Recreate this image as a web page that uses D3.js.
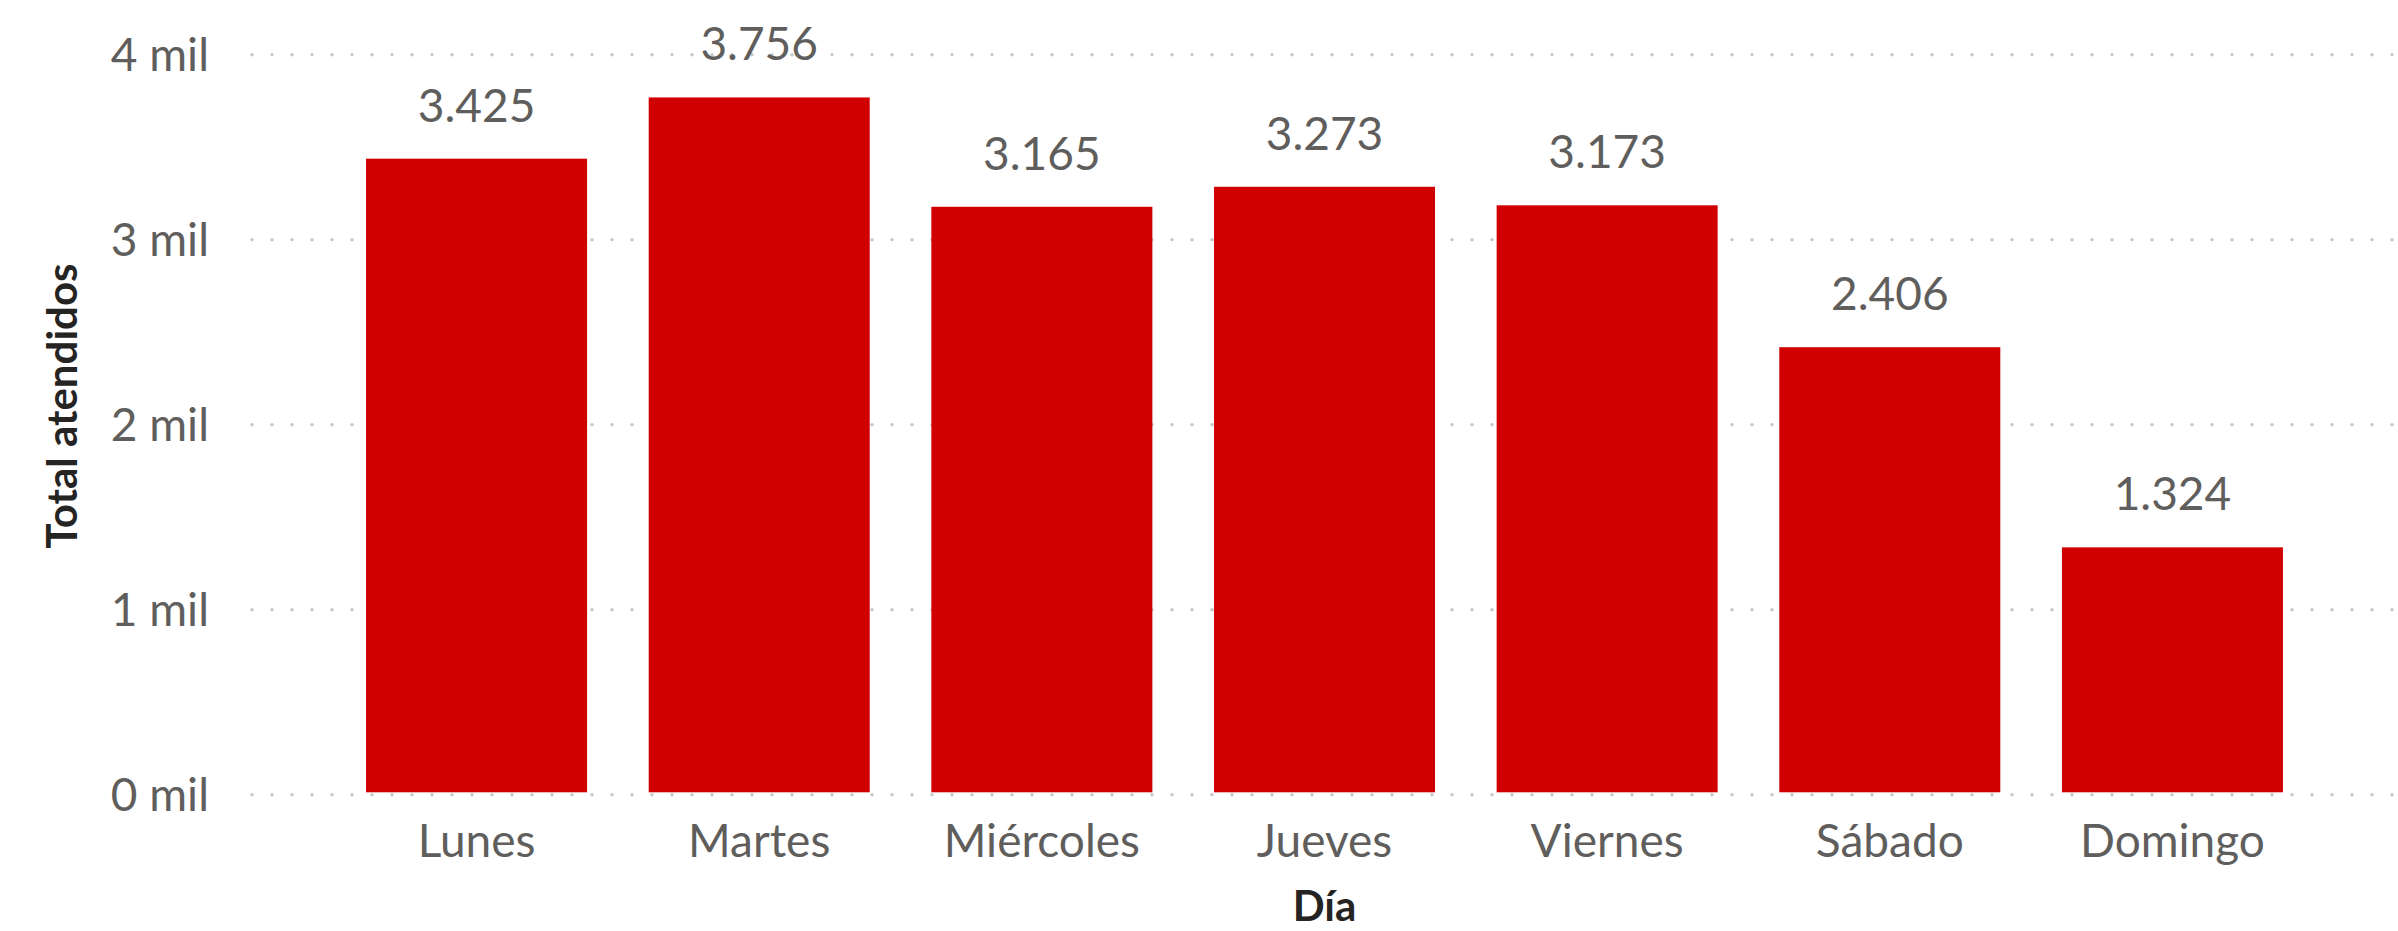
<!DOCTYPE html>
<html>
<head>
<meta charset="utf-8">
<script src="https://cdn.jsdelivr.net/npm/d3@7"></script>
<style>
  body { margin: 0; background: #fff; }
  .axis text { font-family: Lato, "Open Sans", sans-serif; font-size: 46px; fill: #605E5C; }
  .grid line { stroke: #c8c8c8; stroke-width: 3.5; stroke-linecap: round; stroke-dasharray: 0 20; }
  .title { font-family: Lato, sans-serif; font-weight: bold; font-size: 42px; fill: #252423; }
  .label { font-family: Lato, "Open Sans", sans-serif; font-size: 46px; fill: #605E5C; }
</style>
</head>
<body>
<svg class="chart"></svg>
<script>
// values
var days = ['Lunes', 'Martes', 'Miércoles', 'Jueves', 'Viernes', 'Sábado', 'Domingo'];
var totals = [3425, 3756, 3165, 3273, 3173, 2406, 1324];
var yTicks = [0, 1000, 2000, 3000, 4000];

var W = 2398, H = 931;
var plotLeft = 251, plotRight = 2398, plotTop = 54.3, plotBottom = 794.3;

var data = days.map(function(d, i) { return {day: d, total: totals[i]}; });

var chart = d3.select('.chart')
  .attr('width', W)
  .attr('height', H);

var x = d3.scaleBand().domain(days).range([plotLeft, plotRight])
  .paddingInner(0.218).paddingOuter(0.407);
var y = d3.scaleLinear().domain([0, 4000]).range([plotBottom, plotTop]);

// dotted gridlines
chart.append('g')
  .attr('class', 'grid')
  .attr('transform', 'translate(252,0)')
  .call(d3.axisLeft(y).tickValues(yTicks).tickSize(-(plotRight - 252)).tickFormat(''))
  .call(function(g) { g.select('.domain').remove(); });

// y tick labels
chart.append('g')
  .attr('class', 'axis')
  .attr('transform', 'translate(209,0)')
  .call(d3.axisLeft(y).tickValues(yTicks).tickSize(0).tickPadding(0)
    .tickFormat(function(d) { return (d / 1000) + ' mil'; }))
  .call(function(g) {
    g.select('.domain').remove();
    g.selectAll('text').attr('dy', '0.35em');
  });

// bars (sit 2px above the zero gridline, like the original)
chart.selectAll('.bar')
  .data(data)
  .enter().append('rect')
    .attr('class', 'bar')
    .attr('x', function(d) { return x(d.day); })
    .attr('y', function(d) { return y(d.total) - 2; })
    .attr('width', x.bandwidth())
    .attr('height', function(d) { return y(0) - y(d.total); })
    .attr('fill', '#D10000');

// data labels
chart.selectAll('.label')
  .data(data)
  .enter().append('text')
    .attr('class', 'label')
    .attr('x', function(d) { return x(d.day) + x.bandwidth() / 2; })
    .attr('y', function(d) { return y(d.total) - 39; })
    .attr('text-anchor', 'middle')
    .text(function(d) { return d3.format(',')(d.total).replace(',', '.'); });

// x axis
chart.append('g')
  .attr('class', 'axis')
  .attr('transform', 'translate(0,' + plotBottom + ')')
  .call(d3.axisBottom(x).tickSize(0).tickPadding(30))
  .call(function(g) { g.select('.domain').remove(); });

// axis titles
chart.append('text')
  .attr('class', 'title')
  .attr('x', (plotLeft + plotRight) / 2)
  .attr('y', 921)
  .attr('text-anchor', 'middle')
  .text('Día');

chart.append('text')
  .attr('class', 'title')
  .attr('transform', 'translate(77,406) rotate(-90)')
  .attr('text-anchor', 'middle')
  .text('Total atendidos');
</script>
</body>
</html>
